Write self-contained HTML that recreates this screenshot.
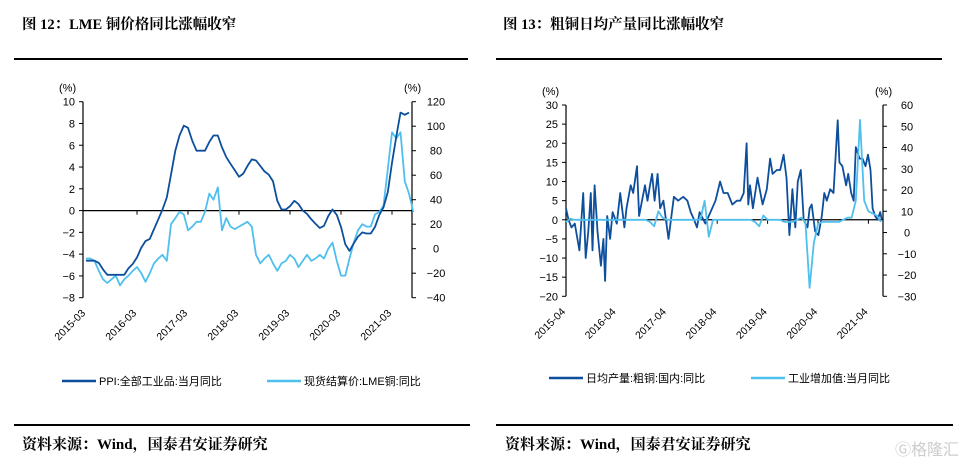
<!DOCTYPE html>
<html><head><meta charset="utf-8">
<style>
body{margin:0;background:#fff;width:967px;height:464px;overflow:hidden;position:relative;font-family:"Liberation Serif","Noto Serif CJK SC",serif}
.t{position:absolute;font-weight:bold;font-size:14.5px;color:#000;white-space:nowrap}
.s{position:absolute;font-weight:bold;font-size:15px;color:#000;white-space:nowrap}
.hl{position:absolute;height:1.5px;background:#000}
svg{position:absolute;left:0;top:0}
svg text{font-family:"Liberation Sans","Noto Sans CJK SC",sans-serif}
</style></head><body>
<div class="t" style="left:22px;top:13px">图 12：LME 铜价格同比涨幅收窄</div>
<div class="t" style="left:503px;top:13px">图 13：粗铜日均产量同比涨幅收窄</div>
<div class="hl" style="left:14px;top:58px;width:454px"></div>
<div class="hl" style="left:496px;top:58px;width:446px"></div>
<div class="hl" style="left:14px;top:424px;width:456px"></div>
<div class="hl" style="left:496px;top:424px;width:457px"></div>
<div class="s" style="left:22px;top:433px">资料来源：Wind，国泰君安证券研究</div>
<div class="s" style="left:505px;top:433px">资料来源：Wind，国泰君安证券研究</div>
<div style="position:absolute;left:895px;top:436px;font-size:16px;color:#ccc;font-family:'Liberation Sans','Noto Sans CJK SC',sans-serif">Ⓖ格隆汇</div>
<svg id="chart" width="967" height="464"></svg>
<script>
// ---- Left chart data (months since 2015-03) ----
const ppiValues=[-4.6,-4.6,-4.6,-4.8,-5.4,-5.9,-5.9,-5.9,-5.9,-5.9,-5.3,-4.9,-4.3,-3.4,-2.8,-2.6,-1.7,-0.8,0.1,1.2,3.3,5.5,6.9,7.8,7.6,6.4,5.5,5.5,5.5,6.3,6.9,6.9,5.8,4.9,4.3,3.7,3.1,3.4,4.1,4.7,4.6,4.1,3.6,3.3,2.7,0.9,0.1,0.1,0.4,0.9,0.6,0.0,-0.3,-0.8,-1.2,-1.6,-1.4,-0.5,0.1,-0.4,-1.5,-3.1,-3.7,-3.0,-2.4,-2.0,-2.1,-2.1,-1.5,-0.4,0.3,1.7,4.4,6.8,9.0,8.8,9.0];
const lmeValues=[-8,-8,-10,-18,-25,-28,-25,-22,-30,-25,-22,-18,-15,-20,-27,-20,-12,-8,-5,-10,20,25,30,28,15,18,22,22,30,45,40,50,15,25,18,16,18,20,22,18,-5,-12,-8,-5,-12,-18,-12,-10,-5,-8,-15,-10,-5,-10,-8,-5,-8,0,5,-10,-22,-22,-8,5,15,20,18,18,28,30,35,65,95,90,95,55,45,30];
const leftTicksL=[10,8,6,4,2,0,-2,-4,-6,-8];
const leftTicksR=[120,100,80,60,40,20,0,-20,-40];
const leftXLabels=["2015-03","2016-03","2017-03","2018-03","2019-03","2020-03","2021-03"];
// ---- Right chart data ----
const cuMonths=[0,0.6,1.3,2.1,3.2,4.1,4.7,5.3,5.9,6.3,6.8,7.5,8.3,8.9,9.3,9.8,10.5,11.1,12.1,12.9,13.9,14.4,15.4,16.0,16.9,17.4,18.1,18.8,19.4,20.0,20.5,21.1,21.8,22.4,23.2,24.4,25.7,26.7,27.9,28.9,29.7,30.5,31.2,31.8,33.2,34.4,35.6,36.7,37.5,38.5,39.6,40.7,41.5,42.3,43.0,43.4,43.8,44.5,45.6,46.8,47.8,48.6,49.2,50.2,51.0,51.8,52.5,53.2,53.9,54.6,55.2,55.9,56.6,57.5,58.0,58.5,59.3,60.1,60.9,61.5,62.1,62.9,63.7,64.7,65.1,65.8,66.7,67.2,67.9,68.5,69.0,69.9,70.6,71.3,71.9,72.5,73.0,73.6,74.2,74.8,75.2];
const cuValues=[3,0,-2,-1,-8,7,-10,-3,7,-8,9,-3,-12,-5,-16,1,-5,2,-1,7,-2,3,9,7,14,1,5,9,5,9,12,5,12,3,5,-5,6,5,6,5,2,0,-2,2,-1,2,5,10,7,7,4,5,5,7,20,4,9,3,11,4,8,16,12,13,13,17,11,-4,8,-2,10,13,0,-2,3,4,-3,-4,1,7,5,8,7,26,15,14,9,12,7,5,19,16,16,14,17,13,3,1,0,2,0];
const ivaValues=[5,6.5,6,6,6,6,6,6,6,6,6,6,6,6,6,6,6,6,6,6,5,3,10,7,6,6,6,6,6,6,6,6,6,15,-2,6,6,6,6,6,6,6,6,6,6,5,3,8,6,6,6,6,5,5,5,6,7,5,-26,-5,4,5,5,5,5,5,6,7,7,15,53,15,10,9,8,5];
const rightTicksL=[30,25,20,15,10,5,0,-5,-10,-15,-20];
const rightTicksR=[60,50,40,30,20,10,0,-10,-20,-30];
const rightXLabels=["2015-04","2016-04","2017-04","2018-04","2019-04","2020-04","2021-04"];

const svg=document.getElementById('chart');
const NS='http://www.w3.org/2000/svg';
function mk(tag,attrs,parent){const e=document.createElementNS(NS,tag);for(const k in attrs)e.setAttribute(k,attrs[k]);(parent||svg).appendChild(e);return e;}
const DARK='#0d4f9c',LIGHT='#4fbfee';

function drawChart(c){
  const g=mk('g',{});
  
  
  const yL=v=>c.y0+(c.lmax-v)/(c.lmax-c.lmin)*(c.y1-c.y0);
  const yR=v=>c.y0+(c.rmax-v)/(c.rmax-c.rmin)*(c.y1-c.y0);
  const xM=m=>c.xs+m*c.pxPerMonth;
  // axes
  const la=mk('line',{x1:c.xl,y1:c.y0,x2:c.xl,y2:c.y1,stroke:'#000','stroke-width':1.2},g);
  
  const ra=mk('line',{x1:c.xr,y1:c.y0,x2:c.xr,y2:c.y1,stroke:'#000','stroke-width':1.2},g);
  
  const za=mk('line',{x1:c.xl,y1:yL(0),x2:c.xr,y2:yL(0),stroke:'#000','stroke-width':1.2},g);
  
  c.ticksL.forEach(v=>{const y=yL(v);mk('line',{x1:c.xl-4,y1:y,x2:c.xl,y2:y,stroke:'#000'},g);
    const t=mk('text',{x:c.xl-8,y:y+4,'text-anchor':'end','font-size':11},g);t.textContent=String(v).replace('-','−');
    });
  c.ticksR.forEach(v=>{const y=yR(v);mk('line',{x1:c.xr,y1:y,x2:c.xr+4,y2:y,stroke:'#000'},g);
    const t=mk('text',{x:c.xr+24,y:y+4,'text-anchor':'middle','font-size':11},g);t.textContent=String(v).replace('-','−');
    });
  const u1=mk('text',{x:c.xl-24,y:c.y0-10,'font-size':11},g);u1.textContent='(%)';
  
  const u2=mk('text',{x:c.xr-8,y:c.y0-10,'font-size':11},g);u2.textContent='(%)';
  
  c.xLabels.forEach((lab,i)=>{const x=xM(c.tick0+i*12);
    if(i>0)mk('line',{x1:x,y1:yL(0),x2:x,y2:yL(0)+4,stroke:'#000'},g);
    const t=mk('text',{x:x,y:c.y1+16,'text-anchor':'end','font-size':10.5,transform:`rotate(-45 ${x} ${c.y1+16})`},g);
    t.textContent=lab;});
  // series
  c.series.forEach(s=>{
    const pts=s.values.map((v,i)=>[xM(s.months?s.months[i]:i+s.offset),s.axis==='L'?yL(v):yR(v)]);
    const p=mk('polyline',{points:pts.map(p=>p[0].toFixed(1)+','+p[1].toFixed(1)).join(' '),fill:'none',stroke:s.color,'stroke-width':1.8,'stroke-linejoin':'round'},g);
    
  });
  // legend
  c.legend.forEach(l=>{mk('line',{x1:l.x,y1:c.ly,x2:l.x+34,y2:c.ly,stroke:l.color,'stroke-width':2.5},g);
    const t=mk('text',{x:l.x+37,y:c.ly+4,'font-size':11},g);t.textContent=l.text;
    });
}
drawChart({name:'lme-copper-chart',xl:83,xr:412,y0:101.7,y1:297.7,lmax:10,lmin:-8,rmax:120,rmin:-40,
  xs:86,pxPerMonth:4.25,tick0:0,ticksL:leftTicksL,ticksR:leftTicksR,xLabels:leftXLabels,ly:381,
  series:[{name:'lme-copper-line',values:lmeValues,offset:0,axis:'R',color:LIGHT},{name:'ppi-line',values:ppiValues,offset:0,axis:'L',color:DARK}],
  legend:[{x:62,color:DARK,text:'PPI:全部工业品:当月同比'},{x:267,color:LIGHT,text:'现货结算价:LME铜:同比'}]});
drawChart({name:'copper-output-chart',xl:566,xr:883,y0:105,y1:296.3,lmax:30,lmin:-20,rmax:60,rmin:-30,
  xs:566,pxPerMonth:4.2,tick0:0,ticksL:rightTicksL,ticksR:rightTicksR,xLabels:rightXLabels,ly:378,
  series:[{name:'copper-output-line',values:cuValues,months:cuMonths,axis:'L',color:DARK},{name:'industrial-value-added-line',values:ivaValues,offset:0,axis:'R',color:LIGHT}],
  legend:[{x:549,color:DARK,text:'日均产量:粗铜:国内:同比'},{x:751,color:LIGHT,text:'工业增加值:当月同比'}]});
</script>
</body></html>
